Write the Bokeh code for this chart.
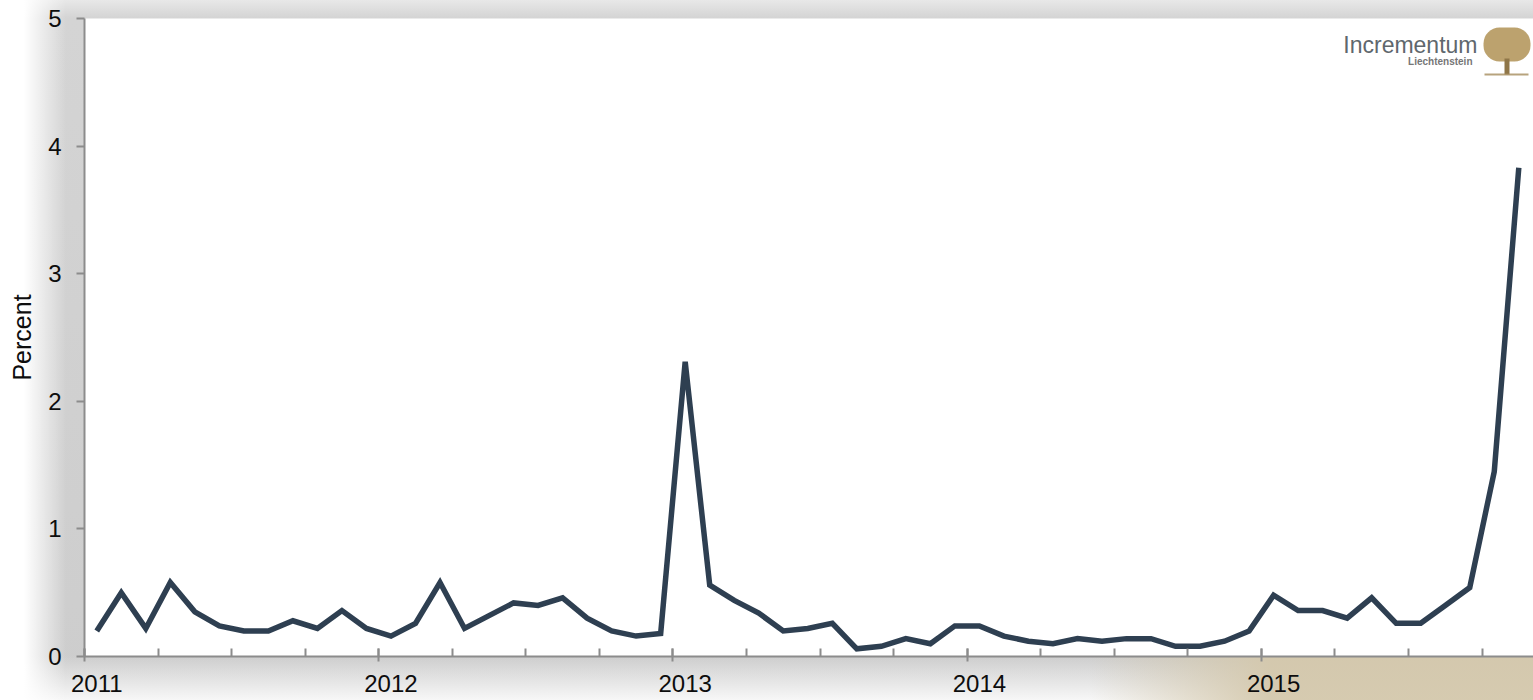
from bokeh.plotting import figure
from bokeh.models import (Range1d, LinearAxis, FixedTicker, Label, BoxAnnotation)
from bokeh.embed import file_html
from bokeh.resources import INLINE

# ---- data (monthly, Jan 2011 .. Nov 2015) ----
years = [2011, 2012, 2013, 2014, 2015]
year_labels = ["2011", "2012", "2013", "2014", "2015"]
values_2011 = [0.20, 0.50, 0.22, 0.58, 0.35, 0.24, 0.20, 0.20, 0.28, 0.22, 0.36, 0.22]
values_2012 = [0.16, 0.26, 0.58, 0.22, 0.32, 0.42, 0.40, 0.46, 0.30, 0.20, 0.16, 0.18]
values_2013 = [2.31, 0.56, 0.44, 0.34, 0.20, 0.22, 0.26, 0.06, 0.08, 0.14, 0.10, 0.24]
values_2014 = [0.24, 0.16, 0.12, 0.10, 0.14, 0.12, 0.14, 0.14, 0.08, 0.08, 0.12, 0.20]
values_2015 = [0.48, 0.36, 0.36, 0.30, 0.46, 0.26, 0.26, 0.40, 0.54, 1.45, 3.83]
y_ticks = [0, 1, 2, 3, 4, 5]

values = values_2011 + values_2012 + values_2013 + values_2014 + values_2015
# month index, points centred in their month
x = [i + 0.5 for i in range(len(values))]

FONT = "Liberation Sans"
AXIS_GRAY = "#8c8c8c"

p = figure(width=1533, height=700, output_backend="svg", toolbar_location=None,
           x_range=Range1d(0, 59.1), y_range=Range1d(0, 5),
           x_axis_location=None, y_axis_location="left",
           min_border_left=84, min_border_right=0, min_border_top=18, min_border_bottom=44)

p.border_fill_alpha = 0
p.background_fill_color = "white"
p.outline_line_color = None
p.grid.visible = False
p.styles = {
    "background": (
        "linear-gradient(to right, #ffffff 24px, rgba(255,255,255,0) 66px), "
        "linear-gradient(to right, rgba(212,200,172,0) 1090px, rgba(212,200,172,0.95) 1270px) bottom / 100% 44px no-repeat, "
        "linear-gradient(to bottom, rgba(255,255,255,0) 656px, #f7f7f7 700px), "
        "linear-gradient(to bottom, #e8e8e8 0px, #d4d4d4 18px, #cdcdcd 100%)"
    )
}

# y axis
ya = p.yaxis[0]
ya.ticker = FixedTicker(ticks=y_ticks)
ya.axis_line_color = AXIS_GRAY
ya.axis_line_width = 2
ya.major_tick_line_color = AXIS_GRAY
ya.major_tick_line_width = 2
ya.major_tick_in = 0
ya.major_tick_out = 8
ya.minor_tick_line_color = None
ya.major_label_standoff = 15
ya.major_label_text_font = FONT
ya.major_label_text_font_size = "24px"
ya.major_label_text_color = "#0d0d0d"
ya.axis_label = "Percent"
ya.axis_label_text_font = FONT
ya.axis_label_text_font_size = "25px"
ya.axis_label_text_font_style = "normal"
ya.axis_label_text_color = "#0d0d0d"
ya.axis_label_standoff = 9

# x axis: tick marks at year / quarter boundaries
year_starts = [12 * i for i in range(len(years))]
quarter_ticks = [3 * i for i in range(20)]
xa = LinearAxis(ticker=FixedTicker(ticks=year_starts, minor_ticks=quarter_ticks),
                axis_line_color=AXIS_GRAY, axis_line_width=2,
                major_tick_line_color=AXIS_GRAY, major_tick_line_width=2,
                major_tick_in=8, major_tick_out=5,
                minor_tick_line_color=AXIS_GRAY, minor_tick_line_width=2,
                minor_tick_in=8, minor_tick_out=0,
                major_label_text_font_size="0px", major_label_standoff=0,
                major_label_overrides={v: "" for v in year_starts})
p.add_layout(xa, "below")

# x axis labels centred on the first month of each year
label_pos = [12 * i + 0.5 for i in range(len(years))]
xl = LinearAxis(ticker=FixedTicker(ticks=label_pos, minor_ticks=[]),
                axis_line_color=None, major_tick_line_color=None,
                minor_tick_line_color=None, major_tick_in=0, major_tick_out=0,
                major_label_standoff=13,
                major_label_text_font=FONT, major_label_text_font_size="24px",
                major_label_text_color="#0d0d0d",
                major_label_overrides={v: t for v, t in zip(label_pos, year_labels)})
p.add_layout(xl, "below")

p.line(x, values, line_color="#2E3F51", line_width=5.5, line_join="miter")

# ---- logo (top right); screen units are relative to the frame's bottom-left ----
p.add_layout(Label(x=1393, y=612, x_units="screen", y_units="screen",
                   text="Incrementum", text_font=FONT, text_baseline="alphabetic",
                   text_font_size="23px", text_color="#5f676d", text_align="right"))
p.add_layout(Label(x=1388, y=595, x_units="screen", y_units="screen",
                   text="Liechtenstein", text_font=FONT, text_baseline="alphabetic",
                   text_font_size="10px", text_font_style="bold",
                   text_color="#767676", text_align="right"))
p.add_layout(BoxAnnotation(left=1399, right=1446, bottom=595, top=629,
                           left_units="screen", right_units="screen",
                           bottom_units="screen", top_units="screen",
                           fill_color="#b89d66", fill_alpha=0.95, line_color=None,
                           border_radius=16))
p.add_layout(BoxAnnotation(left=1420, right=1425, bottom=582, top=598,
                           left_units="screen", right_units="screen",
                           bottom_units="screen", top_units="screen",
                           fill_color="#8f7648", fill_alpha=1, line_color=None))
p.add_layout(BoxAnnotation(left=1400, right=1444, bottom=581, top=583,
                           left_units="screen", right_units="screen",
                           bottom_units="screen", top_units="screen",
                           fill_color="#a58c5c", fill_alpha=0.8, line_color=None))

open("out.html", "w").write(file_html(p, INLINE))
